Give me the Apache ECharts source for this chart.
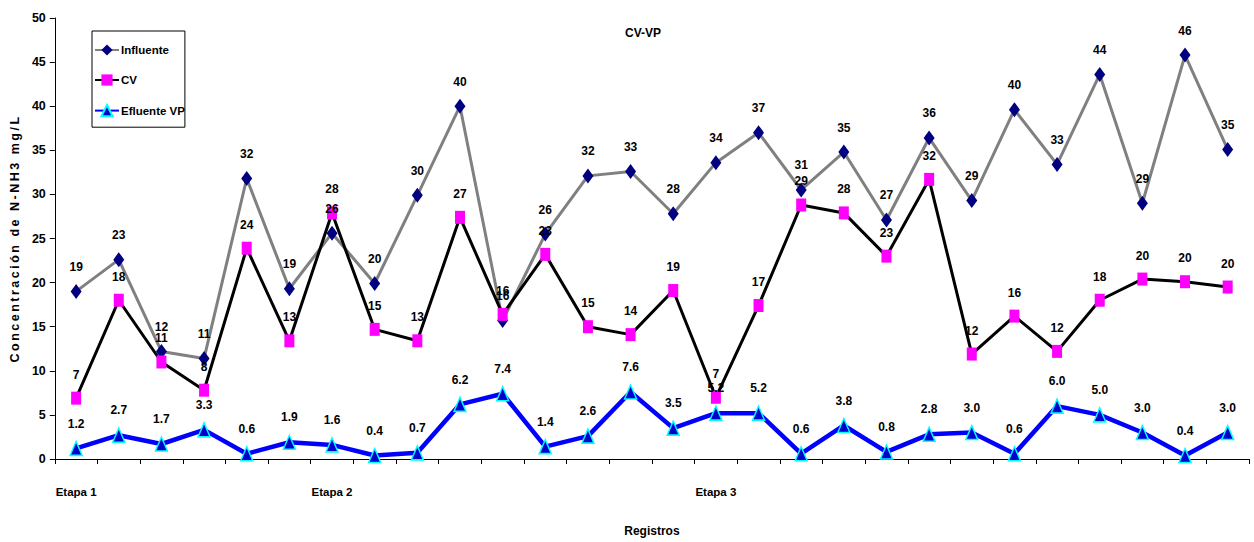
<!DOCTYPE html>
<html>
<head>
<meta charset="utf-8">
<script src="https://cdn.jsdelivr.net/npm/echarts@6/dist/echarts.min.js"></script>
<style>
  html, body { margin: 0; padding: 0; background: #fff; }
  #chart { width: 1254px; height: 542px; }
</style>
</head>
<body>
<div id="chart"></div>
<script>
// Registros (28 muestras); sólo se rotula el inicio de cada etapa
const registros = Array.from({ length: 28 }, (_, i) => 'R' + (i + 1));
const etapas = { 0: 'Etapa 1', 6: 'Etapa 2', 15: 'Etapa 3' };

// Concentración de N-NH3 (mg/L)
const influente = [19.0, 22.6, 12.2, 11.4, 31.8, 19.3, 25.6, 19.9, 29.9, 40.0,
                   15.7, 25.5, 32.1, 32.6, 27.8, 33.6, 37.0, 30.5, 34.8, 27.1,
                   36.4, 29.3, 39.6, 33.4, 43.6, 29.0, 45.8, 35.1];
const cv = [6.9, 18.0, 11.0, 7.8, 23.9, 13.4, 27.9, 14.7, 13.4, 27.4,
            16.4, 23.2, 15.0, 14.1, 19.1, 7.0, 17.4, 28.8, 27.9, 23.0,
            31.7, 11.9, 16.2, 12.2, 18.0, 20.4, 20.1, 19.5];
const efluenteVP = [1.2, 2.7, 1.7, 3.3, 0.6, 1.9, 1.6, 0.4, 0.7, 6.2,
                    7.4, 1.4, 2.6, 7.6, 3.5, 5.2, 5.2, 0.6, 3.8, 0.8,
                    2.8, 3.0, 0.6, 6.0, 5.0, 3.0, 0.4, 3.0];

const yTitle = 'Concentración de N-NH3 mg/L';
const font = "'Liberation Sans', Arial, sans-serif";

const labelBase = {
  show: true,
  position: 'top',
  distance: 11,
  color: '#000',
  fontFamily: font,
  fontWeight: 'bold',
  fontSize: 12
};

const chart = echarts.init(document.getElementById('chart'), null, { renderer: 'svg' });

chart.setOption({
  animation: false,
  backgroundColor: '#fff',
  title: {
    text: 'CV-VP',
    left: 620,
    top: 22,
    textStyle: { fontFamily: font, fontWeight: 'bold', fontSize: 12, color: '#000' }
  },
  legend: {
    orient: 'vertical',
    left: 92,
    top: 31,
    padding: [13, 0, 10, 2],
    itemGap: 18,
    itemWidth: 24,
    itemHeight: 14,
    backgroundColor: '#fff',
    borderColor: '#000',
    borderWidth: 1,
    borderRadius: 0,
    textStyle: { fontFamily: font, fontWeight: 'bold', fontSize: 11.5, color: '#000', padding: [0, 0, 0, -3] },
    data: ['Influente', 'CV', 'Efluente VP']
  },
  grid: { left: 53, right: 5, top: 18, bottom: 79 },
  xAxis: {
    type: 'category',
    data: registros,
    boundaryGap: true,
    name: 'Registros',
    nameLocation: 'middle',
    nameGap: 66,
    nameTextStyle: { fontFamily: font, fontWeight: 'bold', fontSize: 12, color: '#000' },
    axisLine: { lineStyle: { color: '#000', width: 1 } },
    axisTick: { show: true, alignWithLabel: false, length: 5, lineStyle: { color: '#000' } },
    axisLabel: {
      interval: 0,
      margin: 27,
      fontFamily: font,
      fontWeight: 'bold',
      fontSize: 11.5,
      color: '#000',
      formatter: (v, i) => etapas[i] || ''
    },
    splitLine: { show: false }
  },
  yAxis: {
    type: 'value',
    min: 0,
    max: 50,
    interval: 5,
    name: yTitle,
    nameLocation: 'middle',
    nameGap: 30,
    nameTextStyle: { fontFamily: font, fontWeight: 'bold', fontSize: 12.5, color: '#000' },
    axisLine: { show: true, lineStyle: { color: '#000', width: 1 } },
    axisTick: { show: true, length: 5, lineStyle: { color: '#000' } },
    axisLabel: { margin: 9, fontFamily: font, fontWeight: 'bold', fontSize: 12.5, color: '#000' },
    splitLine: { show: false }
  },
  series: [
    {
      name: 'Influente',
      type: 'line',
      data: influente,
      symbol: 'diamond',
      symbolSize: [11, 15],
      showAllSymbol: true,
      itemStyle: { color: '#000080' },
      lineStyle: { color: '#808080', width: 3 },
      label: Object.assign({}, labelBase, { formatter: p => Math.round(p.value) })
    },
    {
      name: 'CV',
      type: 'line',
      data: cv,
      symbol: 'rect',
      symbolSize: [10, 13],
      showAllSymbol: true,
      itemStyle: { color: '#FF00FF' },
      lineStyle: { color: '#000', width: 3 },
      label: Object.assign({}, labelBase, { formatter: p => Math.round(p.value) })
    },
    {
      name: 'Efluente VP',
      type: 'line',
      data: efluenteVP,
      symbol: 'triangle',
      symbolSize: [12, 14],
      showAllSymbol: true,
      itemStyle: { color: '#0000CC', borderColor: '#00FFFF', borderWidth: 1.5 },
      lineStyle: { color: '#0000FF', width: 4.5 },
      label: Object.assign({}, labelBase, { formatter: p => p.value.toFixed(1) })
    }
  ]
});

// The vertical axis title is set with wide letter spacing
document.querySelectorAll('#chart svg text').forEach(t => {
  if (t.textContent === yTitle) t.setAttribute('letter-spacing', '2.5');
});
</script>
</body>
</html>
